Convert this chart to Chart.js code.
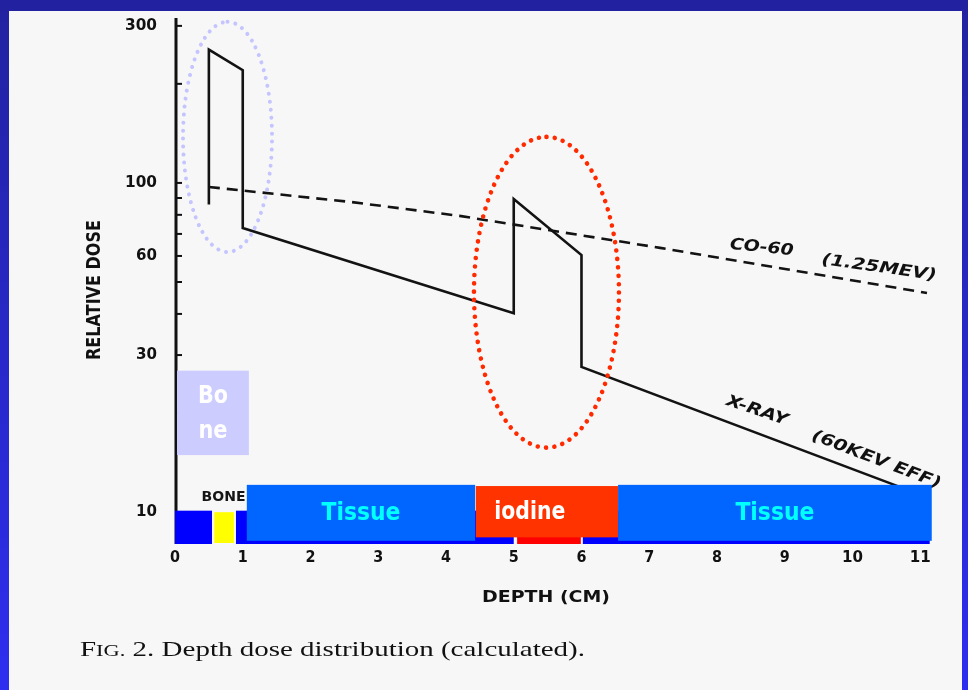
<!DOCTYPE html>
<html>
<head>
<meta charset="utf-8">
<script src="https://cdn.jsdelivr.net/npm/chart.js@4"></script>
<style>
  html, body { margin: 0; padding: 0; background: #2828c8; }
  #wrap { width: 968px; height: 690px; position: relative; }
  canvas { display: block; }
</style>
</head>
<body>
<div id="wrap"><canvas id="c" width="968" height="690"></canvas></div>
<script>
// Depth (cm) and relative dose of the 60 keV effective X-ray beam
const xrayDepth = [0.5, 0.5, 1.0, 1.0, 5.0, 5.0, 6.0, 6.0, 11.0];
const xrayDose  = [86, 254, 220, 73, 40.2, 89.4, 60.4, 27.6, 11.3];

// Depth (cm) and relative dose of the Co-60 (1.25 MeV) beam
const coDepth = [0.5, 2.6, 4.2, 7.16, 11.1];
const coDose  = [97.2, 87.5, 79.4, 63.5, 46.3];

// Axis ticks
const depthTicks = [0, 1, 2, 3, 4, 5, 6, 7, 8, 9, 10, 11];
const doseTicks  = [10, 20, 30, 40, 50, 60, 70, 80, 90, 100, 200, 300];
const doseLabels = [10, 30, 60, 100, 300];

// Phantom layers along depth (cm): soft tissue, bone, iodine
const stripFrom = [0, 0.58, 0.90, 5.05, 6.02];
const stripTo   = [0.546, 0.87, 5.0, 5.99, 11.14];
const stripKind = ['soft', 'bone', 'soft', 'iodine', 'soft'];

// Labelled slabs drawn over the depth axis
const slabNames = ['Tissue', 'iodine', 'Tissue'];
const slabFrom  = [1.06, 4.44, 6.54];
const slabTo    = [4.43, 6.54, 11.17];

// Highlighted regions (depth range, dose range)
const ringDepthFrom = [0.118, 4.413];
const ringDepthTo   = [1.432, 6.553];
const ringDoseLow   = [61.7, 15.7];
const ringDoseHigh  = [308.6, 138];

function drawText(ctx, text, x, y, o) {
  ctx.save();
  ctx.font = o.font;
  ctx.fillStyle = o.color || '#111';
  ctx.textAlign = o.align || 'center';
  ctx.textBaseline = o.baseline || 'middle';
  ctx.translate(x, y);
  if (o.angle) ctx.rotate(o.angle * Math.PI / 180);
  const w = ctx.measureText(text).width;
  const sx = o.width ? o.width / w : 1;
  ctx.scale(sx, o.sy || 1);
  ctx.fillText(text, 0, 0);
  ctx.restore();
}

function dottedEllipse(ctx, x0, x1, y0, y1, color, dot, gap) {
  ctx.save();
  ctx.strokeStyle = color;
  ctx.lineWidth = dot;
  ctx.lineCap = 'round';
  ctx.setLineDash([0.01, gap]);
  ctx.beginPath();
  ctx.ellipse((x0 + x1) / 2, (y0 + y1) / 2, Math.abs(x1 - x0) / 2, Math.abs(y1 - y0) / 2, 0, -Math.PI / 2, Math.PI * 1.5);
  ctx.stroke();
  ctx.restore();
}

const slide = {
  id: 'slide',
  beforeDraw(chart) {
    const { ctx, width, height } = chart;
    ctx.save();
    const g = ctx.createLinearGradient(0, 0, 0, height);
    g.addColorStop(0, '#2222a0');
    g.addColorStop(1, '#2e2ef0');
    ctx.fillStyle = g;
    ctx.fillRect(0, 0, width, height);
    ctx.fillStyle = '#f7f7f7';
    ctx.fillRect(9, 11, 953, height - 11);
    ctx.restore();
  },
  beforeDatasetsDraw(chart) {
    const { ctx, chartArea: a } = chart;
    const xs = chart.scales.x, ys = chart.scales.y;
    ctx.save();
    // dose axis line with inner tick marks
    ctx.fillStyle = '#111';
    ctx.fillRect(a.left - 0.5, a.top, 3, a.bottom - a.top);
    ctx.strokeStyle = '#111';
    ctx.lineWidth = 2;
    ys.ticks.forEach(t => {
      const y = ys.getPixelForValue(t.value);
      ctx.beginPath();
      ctx.moveTo(a.left + 2, y);
      ctx.lineTo(a.left + 7, y);
      ctx.stroke();
    });
    ctx.restore();
    // dose tick labels
    doseLabels.forEach(v => {
      drawText(ctx, String(v), a.left - 18, ys.getPixelForValue(v), { font: 'bold 15px "DejaVu Sans"', align: 'right', width: v >= 100 ? 32 : 21, sy: 1.05 });
    });
    // depth tick labels
    xs.ticks.forEach(t => {
      drawText(ctx, String(t.value), xs.getPixelForValue(t.value), a.bottom + 14, { font: 'bold 15px "DejaVu Sans"', width: t.value >= 10 ? 21 : 10 });
    });
    // axis titles
    drawText(ctx, 'RELATIVE DOSE', 95, 290, { font: 'bold 15px "DejaVu Sans"', angle: -90, width: 140, sy: 1.3 });
    drawText(ctx, 'DEPTH (CM)', 546, 598, { font: 'bold 16px "DejaVu Sans"', width: 128 });
    // curve labels
    const P = (d, v) => [xs.getPixelForValue(d), ys.getPixelForValue(v)];
    const lab = 'italic bold 16px "DejaVu Sans"';
    let p = P(8.66, 63.5); drawText(ctx, 'CO-60', p[0], p[1], { font: lab, angle: 6, width: 64 });
    p = P(10.39, 55.2); drawText(ctx, '(1.25MEV)', p[0], p[1], { font: lab, angle: 8, width: 116 });
    p = P(8.59, 20.3); drawText(ctx, 'X-RAY', p[0], p[1], { font: lab, angle: 19, width: 64 });
    p = P(10.35, 14.4); drawText(ctx, '(60KEV EFF)', p[0], p[1], { font: lab, angle: 21, width: 137 });
    // caption
    ctx.save();
    ctx.fillStyle = '#111';
    ctx.textBaseline = 'alphabetic';
    const big = '22px "Liberation Serif"', small = '17px "Liberation Serif"';
    const parts = [['F', big], ['IG.', small], [' 2. Depth dose distribution (calculated).', big]];
    let total = 0;
    parts.forEach(q => { ctx.font = q[1]; total += ctx.measureText(q[0]).width; });
    ctx.translate(80, 656);
    ctx.scale(505 / total, 1);
    let cx = 0;
    parts.forEach(q => { ctx.font = q[1]; ctx.fillText(q[0], cx, 0); cx += ctx.measureText(q[0]).width; });
    ctx.restore();
  },
  afterDatasetsDraw(chart) {
    const { ctx } = chart;
    const xs = chart.scales.x, ys = chart.scales.y;
    const X = d => xs.getPixelForValue(d), Y = v => ys.getPixelForValue(v);
    ctx.save();
    // phantom layer strip
    const stripTop = Y(10.1), stripBot = Y(8.0);
    stripKind.forEach((k, i) => {
      const x0 = X(stripFrom[i]), x1 = X(stripTo[i]);
      if (k === 'bone') {
        ctx.fillStyle = '#ffff00';
        ctx.fillRect(x0, stripTop + 1.5, x1 - x0, stripBot - stripTop - 2.5);
      } else {
        ctx.fillStyle = k === 'iodine' ? '#ff0000' : '#0000ff';
        ctx.fillRect(x0, stripTop, x1 - x0, stripBot - stripTop);
      }
    });
    // labelled slabs
    slabNames.forEach((n, i) => {
      const x0 = X(slabFrom[i]), x1 = X(slabTo[i]);
      const isI = n === 'iodine';
      const top = Y(isI ? 12.0 : 12.1), bot = Y(isI ? 8.38 : 8.18);
      ctx.fillStyle = isI ? '#ff3300' : '#0066ff';
      ctx.fillRect(x0, top, x1 - x0, bot - top);
      const tx = isI ? x0 + 54 : (x0 + x1) / 2;
      drawText(ctx, n, tx, (top + bot) / 2 + 1, { font: 'bold 25px "DejaVu Sans"', color: isI ? '#ffffff' : '#00ffff', width: isI ? 71 : 79 });
    });
    ctx.restore();
    // bone annotations
    drawText(ctx, 'BONE', X(0.716), Y(11.1), { font: 'bold 14px "DejaVu Sans"', width: 44, color: '#151515' });
    const bx0 = X(0.03), bx1 = X(1.09), by0 = Y(26.9), by1 = Y(14.9);
    ctx.save();
    ctx.fillStyle = '#ccccff';
    ctx.fillRect(bx0, by0, bx1 - bx0, by1 - by0);
    ctx.restore();
    const bcx = (bx0 + bx1) / 2, bcy = (by0 + by1) / 2;
    drawText(ctx, 'Bo', bcx, bcy - 16, { font: 'bold 24px "DejaVu Sans"', color: '#ffffff', width: 30 });
    drawText(ctx, 'ne', bcx, bcy + 19, { font: 'bold 24px "DejaVu Sans"', color: '#ffffff', width: 29 });
    // highlight rings
    const ringColor = ['#c4c4ff', '#ff2a00'];
    const ringDot = [4.0, 4.6];
    const ringGap = [8.0, 8.4];
    ringDepthFrom.forEach((d, i) => {
      dottedEllipse(ctx, X(d), X(ringDepthTo[i]), Y(ringDoseHigh[i]), Y(ringDoseLow[i]), ringColor[i], ringDot[i], ringGap[i]);
    });
  }
};

new Chart(document.getElementById('c'), {
  type: 'scatter',
  data: {
    datasets: [
      {
        label: 'X-RAY (60KEV EFF)',
        data: xrayDepth.map((x, i) => ({ x, y: xrayDose[i] })),
        showLine: true, pointRadius: 0, borderColor: '#131313', borderWidth: 2.6,
        tension: 0, clip: false
      },
      {
        label: 'CO-60 (1.25MEV)',
        data: coDepth.map((x, i) => ({ x, y: coDose[i] })),
        showLine: true, pointRadius: 0, borderColor: '#131313', borderWidth: 2.6,
        borderDash: [11, 7], tension: 0, clip: false
      }
    ]
  },
  options: {
    responsive: false,
    devicePixelRatio: 1,
    animation: false,
    events: [],
    layout: { padding: { left: 175, right: 41, top: 18, bottom: 146 } },
    plugins: { legend: { display: false }, tooltip: { enabled: false } },
    scales: {
      x: {
        type: 'linear', min: 0, max: 11.1, display: false,
        afterBuildTicks: s => { s.ticks = depthTicks.map(v => ({ value: v })); }
      },
      y: {
        type: 'logarithmic', min: 8, max: 317, display: false,
        afterBuildTicks: s => { s.ticks = doseTicks.map(v => ({ value: v })); }
      }
    }
  },
  plugins: [slide]
});
</script>
</body>
</html>
